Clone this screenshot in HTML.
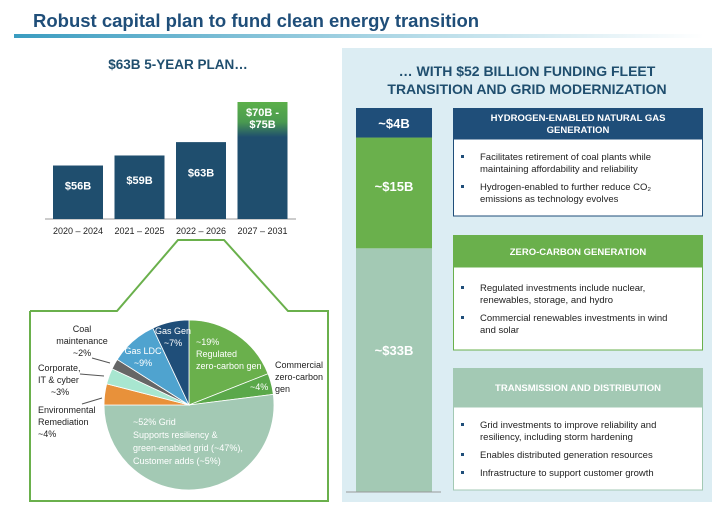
<!DOCTYPE html>
<html><head><meta charset="utf-8"><style>
body{margin:0;width:724px;height:511px;background:#fff;overflow:hidden;font-family:"Liberation Sans",sans-serif}
</style></head><body>
<svg width="724" height="511" viewBox="0 0 724 511" xmlns="http://www.w3.org/2000/svg" font-family="Liberation Sans, sans-serif">
<defs>
<linearGradient id="ul" x1="0" x2="1"><stop offset="0" stop-color="#3a9cc0"/><stop offset="0.6" stop-color="#b9dde9"/><stop offset="1" stop-color="#fff"/></linearGradient>
<linearGradient id="tg" x1="0" y1="0" x2="0" y2="1"><stop offset="0" stop-color="#5cb04a"/><stop offset="0.17" stop-color="#4a9a50"/><stop offset="0.3" stop-color="#1f4e6e"/><stop offset="1" stop-color="#1f4e6e"/></linearGradient>
</defs>
<text x="33" y="27" font-size="18.5" font-weight="bold" fill="#1f4e79">Robust capital plan to fund clean energy transition</text>
<rect x="14" y="34" width="690" height="4" fill="url(#ul)"/>
<text x="178" y="69" font-size="13.5" font-weight="bold" fill="#1f4e6e" text-anchor="middle">$63B 5-YEAR PLAN…</text>
<rect x="342" y="48" width="370" height="454" fill="#dcedf3"/>
<text x="527" y="76" font-size="14" font-weight="bold" fill="#1f4e6e" text-anchor="middle">… WITH $52 BILLION FUNDING FLEET</text>
<text x="527" y="94" font-size="14" font-weight="bold" fill="#1f4e6e" text-anchor="middle">TRANSITION AND GRID MODERNIZATION</text>
<g id="bars"></g>
<g id="pie"></g>
<g fill="none" stroke="#6ab04c" stroke-width="2">
<polyline points="30,311 117,311 178,240 224,240 288,311 328,311 328,501 30,501 30,311"/>
</g>
<g font-size="9" fill="#222">
<text x="82" y="332" text-anchor="middle">Coal</text><text x="82" y="344" text-anchor="middle">maintenance</text><text x="82" y="356" text-anchor="middle">~2%</text>
<text x="38" y="371">Corporate,</text><text x="38" y="383">IT &amp; cyber</text><text x="60" y="395" text-anchor="middle">~3%</text>
<text x="38" y="413">Environmental</text><text x="38" y="425">Remediation</text><text x="38" y="437">~4%</text>
<text x="275" y="368">Commercial</text><text x="275" y="380">zero-carbon</text><text x="275" y="392">gen</text>
<line x1="92" y1="358" x2="110" y2="363" stroke="#555"/><line x1="80" y1="374" x2="104" y2="376" stroke="#555"/><line x1="82" y1="404" x2="102" y2="398" stroke="#555"/>
</g>
<g font-size="9" fill="#fff">
<text x="173" y="334" text-anchor="middle">Gas Gen</text><text x="173" y="346" text-anchor="middle">~7%</text>
<text x="143" y="354" text-anchor="middle">Gas LDC</text><text x="143" y="366" text-anchor="middle">~9%</text>
<text x="196" y="345">~19%</text><text x="196" y="357">Regulated</text><text x="196" y="369">zero-carbon gen</text>
<text x="250" y="390">~4%</text>
<text x="133" y="425">~52% Grid</text><text x="133" y="438">Supports resiliency &amp;</text><text x="133" y="451">green-enabled grid (~47%),</text><text x="133" y="464">Customer adds (~5%)</text>
</g>
<g id="stack"></g>
<line x1="346" y1="492" x2="441" y2="492" stroke="#999"/>
<g font-size="9.5" fill="#222">
<rect x="453" y="108" width="250" height="31" fill="#1f4e79"/>
<text x="578" y="121" fill="#fff" font-weight="bold" text-anchor="middle">HYDROGEN-ENABLED NATURAL GAS</text>
<text x="578" y="133" fill="#fff" font-weight="bold" text-anchor="middle">GENERATION</text>
<rect x="453.5" y="139" width="249" height="77" fill="#fff" stroke="#1f4e79"/>
<text x="480" y="160">Facilitates retirement of coal plants while</text><text x="480" y="172">maintaining affordability and reliability</text>
<text x="480" y="190">Hydrogen-enabled to further reduce CO₂</text><text x="480" y="202">emissions as technology evolves</text>
<rect x="453" y="235" width="250" height="32" fill="#6ab04c"/>
<text x="578" y="255" fill="#fff" font-weight="bold" text-anchor="middle">ZERO-CARBON GENERATION</text>
<rect x="453.5" y="267" width="249" height="83" fill="#fff" stroke="#6ab04c"/>
<text x="480" y="291">Regulated investments include nuclear,</text><text x="480" y="303">renewables, storage, and hydro</text>
<text x="480" y="321">Commercial renewables investments in wind</text><text x="480" y="333">and solar</text>
<rect x="453" y="368" width="250" height="39" fill="#a3c9b4"/>
<text x="578" y="391" fill="#fff" font-weight="bold" text-anchor="middle">TRANSMISSION AND DISTRIBUTION</text>
<rect x="453.5" y="407" width="249" height="83" fill="#fff" stroke="#a3c9b4"/>
<text x="480" y="428">Grid investments to improve reliability and</text><text x="480" y="440">resiliency, including storm hardening</text>
<text x="480" y="458">Enables distributed generation resources</text>
<text x="480" y="476">Infrastructure to support customer growth</text>
<g fill="#1f4e79"><rect x="461" y="155" width="3" height="3"/><rect x="461" y="185" width="3" height="3"/><rect x="461" y="286" width="3" height="3"/><rect x="461" y="316" width="3" height="3"/><rect x="461" y="423" width="3" height="3"/><rect x="461" y="453" width="3" height="3"/><rect x="461" y="471" width="3" height="3"/></g>
</g>
</svg>
<script>
const NS="http://www.w3.org/2000/svg";
const barCats=["2020 – 2024","2021 – 2025","2022 – 2026","2027 – 2031"];
const barVals=[56,59,63,75];
const barLabels=["$56B","$59B","$63B","$70B -|$75B"];
const pieNames=["Regulated zero-carbon gen","Commercial zero-carbon gen","Grid","Environmental Remediation","Corporate IT cyber","Coal maintenance","Gas LDC","Gas Gen"];
const pieVals=[19,4,52,4,3,2,9,7];
const pieColors=["#6ab04c","#5aa84a","#a3c9b4","#e8913a","#a8e6d0","#666","#4fa3cf","#1f4e79"];
const stackNames=["~$33B","~$15B","~$4B"];
const stackVals=[33,15,4];
const stackColors=["#a3c9b4","#6ab04c","#1f4e79"];
function mk(t,a,p){const e=document.createElementNS(NS,t);for(const k in a)e.setAttribute(k,a[k]);p.appendChild(e);return e;}
// bars
const bg=document.getElementById('bars');
const base=219, yS=v=>base-(v-40)*(base-102)/(75-40);
const xB=i=>53+i*61.5;
mk('line',{x1:45,y1:base,x2:296,y2:base,stroke:'#999'},bg);
barVals.forEach((v,i)=>{
 const r=mk('rect',{x:xB(i),y:yS(v),width:50,height:base-yS(v),fill:i==3?'url(#tg)':'#1f4e6e'},bg);
 
 
 const ls=barLabels[i].split('|');
 ls.forEach((s,j)=>{const t=mk('text',{x:xB(i)+25,y:(i==3?yS(v)+14:yS(v)+(base-yS(v))*0.45)+j*12,fill:'#fff','font-size':11,'font-weight':'bold','text-anchor':'middle'},bg);t.textContent=s;});
 const c=mk('text',{x:xB(i)+25,y:base+15,'font-size':9,fill:'#222','text-anchor':'middle'},bg);c.textContent=barCats[i];
 
 
});
// pie
const pg=document.getElementById('pie');const cx=189,cy=405,R=85;
const tot=pieVals.reduce((a,b)=>a+b,0);let a0=0;
pieVals.forEach((v,i)=>{
 const a1=a0+v/tot*2*Math.PI;
 const p=(a)=>[cx+R*Math.sin(a),cy-R*Math.cos(a)];
 const [x0,y0]=p(a0),[x1,y1]=p(a1);
 const s=mk('path',{d:`M${cx},${cy}L${x0},${y0}A${R},${R} 0 ${a1-a0>Math.PI?1:0} 1 ${x1},${y1}Z`,fill:pieColors[i],stroke:'#fff','stroke-width':0.8},pg);
 
 
 a0=a1;
});
// stack
const sg=document.getElementById('stack');const sb=492,st=108,stot=stackVals.reduce((a,b)=>a+b,0);
let cur=sb;
const lblOff=[-15,-2,5];
stackVals.forEach((v,i)=>{
 const h=v/stot*(sb-st);
 const r=mk('rect',{x:356,y:cur-h,width:76,height:h,fill:stackColors[i]},sg);
 
 
 const t=mk('text',{x:394,y:cur-h/2+lblOff[i],fill:'#fff','font-size':13,'font-weight':'bold','text-anchor':'middle'},sg);t.textContent=stackNames[i];
 cur-=h;
});
</script>
</body></html>
